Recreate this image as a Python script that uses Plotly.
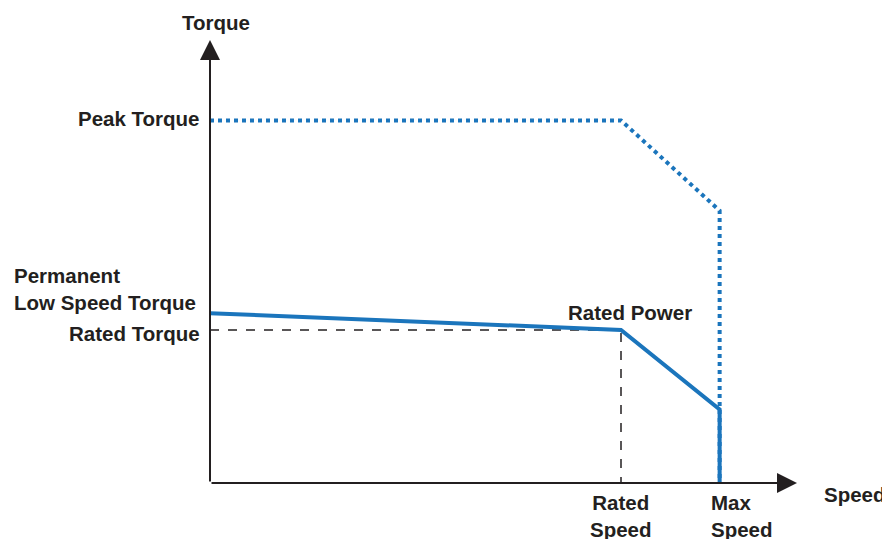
import plotly.graph_objects as go

# Normalised values (rated speed = 1, rated torque = 1)
rated_speed = 1.0
max_speed = 1.24
peak_torque = 2.37
peak_torque_at_max = 1.78
low_speed_torque = 1.11
rated_torque = 1.0
torque_at_max = 0.48

peak_x = [0, rated_speed, max_speed, max_speed]
peak_y = [peak_torque, peak_torque, peak_torque_at_max, 0]
cont_x = [0, rated_speed, max_speed, max_speed]
cont_y = [low_speed_torque, rated_torque, torque_at_max, 0]

OFF = 8                  # page body margin
W, H = 890 - OFF, 539 - OFF
X0, Y0 = 210 - OFF, 483 - OFF   # pixel position of origin inside the figure
SX, SY = 411.0, 153.0    # pixels per unit

BLUE = "#1b75bc"
DARK = "#231f20"

fig = go.Figure()
fig.add_trace(go.Scatter(x=[0, rated_speed, rated_speed], y=[rated_torque, rated_torque, 0],
                         mode="lines", line=dict(color=DARK, width=1.5, dash="dash"),
                         hoverinfo="skip"))
fig.add_trace(go.Scatter(x=peak_x, y=peak_y, mode="lines",
                         line=dict(color=BLUE, width=4, dash="dot"), hoverinfo="skip"))
fig.add_trace(go.Scatter(x=cont_x, y=cont_y, mode="lines",
                         line=dict(color=BLUE, width=4), hoverinfo="skip"))

x_end = (797 - 210) / SX
y_end = (483 - 40) / SY
annotations = [
    dict(x=x_end, y=0, ax=0, ay=0, xref="x", yref="y", axref="x", ayref="y",
         showarrow=True, arrowhead=2, arrowsize=2, arrowwidth=2, arrowcolor=DARK, text=""),
    dict(x=0, y=y_end, ax=0, ay=0, xref="x", yref="y", axref="x", ayref="y",
         showarrow=True, arrowhead=2, arrowsize=2, arrowwidth=2, arrowcolor=DARK, text=""),
]

def lab(text, xp, yp, xanchor="center", align="center"):
    annotations.append(dict(text=text, x=(xp - OFF) / W, y=1 - (yp - OFF) / H,
                            xref="paper", yref="paper",
                            xanchor=xanchor, yanchor="middle", align=align, showarrow=False,
                            font=dict(family="Liberation Sans", size=20.5, color=DARK)))

lab("<b>Torque</b>", 216, 22)
lab("<b>Speed</b>", 855, 494)
lab("<b>Peak Torque</b>", 202, 119, xanchor="right")
lab("<b>Permanent<br>Low Speed Torque</b>", 12, 289, xanchor="left", align="left")
lab("<b>Rated Torque</b>", 202, 333, xanchor="right")
lab("<b>Rated Power</b>", 630, 312)
lab("<b>Rated<br>Speed</b>", 621, 516)
lab("<b>Max<br>Speed</b>", 709, 516, xanchor="left", align="left")

fig.update_layout(
    width=W, height=H, margin=dict(l=0, r=0, t=0, b=0),
    paper_bgcolor="white", plot_bgcolor="white", showlegend=False,
    xaxis=dict(range=[-X0 / SX, (W - X0) / SX], visible=False, fixedrange=True),
    yaxis=dict(range=[-(H - Y0) / SY, Y0 / SY], visible=False, fixedrange=True),
    annotations=annotations,
)
fig.write_html("out.html")
